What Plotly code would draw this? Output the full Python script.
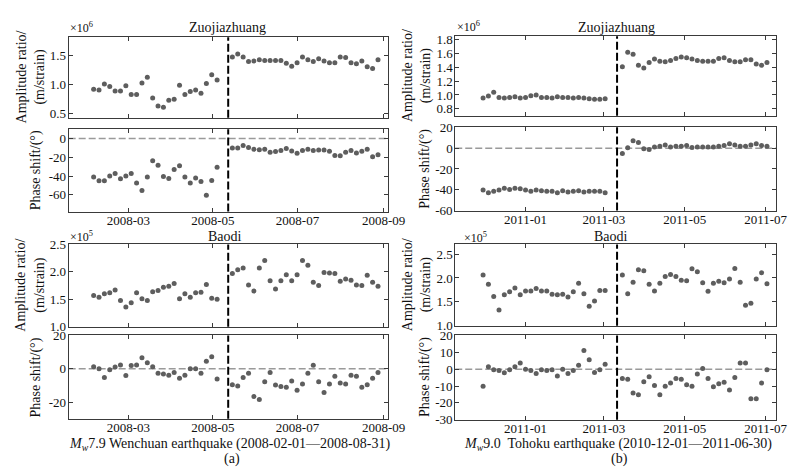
import plotly.graph_objects as go
import pandas as pd

W, H = 796, 472

# ---------------- sampling dates ----------------
wen_pre_dates = pd.date_range("2008-02-05", "2008-05-04", periods=24)
wen_post_dates = pd.date_range("2008-05-15", "2008-08-28", periods=28)
toh_pre_dates = pd.date_range("2010-11-30", "2011-03-02", periods=24)
toh_post_dates = pd.date_range("2011-03-15", "2011-07-02", periods=28)

wen_quake = "2008-05-12"
toh_quake = "2011-03-11"

# ---------------- Wenchuan: Zuojiazhuang ----------------
wen_zuo_amp_pre = [0.92, 0.91, 1.01, 0.97, 0.89, 0.89, 0.98, 0.83, 0.83, 1.03, 1.13, 0.77,
                   0.63, 0.61, 0.73, 0.75, 0.99, 0.83, 0.88, 0.91, 0.85, 1.02, 1.17, 1.08]
wen_zuo_amp_post = [1.48, 1.53, 1.48, 1.40, 1.41, 1.43, 1.42, 1.42, 1.42, 1.42, 1.37, 1.32, 1.38, 1.48,
                    1.43, 1.40, 1.45, 1.41, 1.38, 1.38, 1.48, 1.47, 1.38, 1.36, 1.41, 1.31, 1.28, 1.43]
wen_zuo_ph_pre = [-41, -45, -45, -40, -37.4, -43, -40, -37.4, -47.5, -55.5, -41, -23.6,
                  -28.4, -40.6, -42.6, -33, -29, -41, -47.5, -42, -46, -60.7, -44.7, -30.5]
wen_zuo_ph_post = [-10, -10, -7.3, -9.4, -11.4, -12, -11.4, -14.6, -13.9, -12.8, -10.7, -13.2, -15.6, -12.8,
                   -11.4, -12.8, -12.1, -12.1, -13.5, -18, -18.4, -14.6, -12.8, -15.3, -13.5, -11.4, -19.4, -17.3]

# ---------------- Wenchuan: Baodi ----------------
wen_bao_amp_pre = [1.57, 1.54, 1.60, 1.62, 1.67, 1.48, 1.36, 1.44, 1.62, 1.51, 1.48, 1.64,
                   1.66, 1.72, 1.74, 1.79, 1.51, 1.60, 1.54, 1.62, 1.63, 1.77, 1.52, 1.50]
wen_bao_amp_post = [1.97, 2.04, 2.07, 1.76, 1.65, 2.07, 2.21, 1.84, 1.69, 1.84, 1.95, 1.84, 1.95, 2.21,
                    2.12, 1.81, 1.75, 1.99, 1.98, 1.97, 1.83, 1.87, 1.85, 1.76, 1.75, 1.94, 1.81, 1.74]
wen_bao_ph_pre = [1.2, 0, -5.3, -0.6, 1.0, 2.3, -4.1, 2.0, 2.3, 6.6, 3.7, 1.2,
                  -2.7, -3.1, -3.9, -2.3, -5.7, -3.9, 0, 0, -2.7, 4.5, 7.2, -6.2]
wen_bao_ph_post = [-9.6, -10.3, -5.3, -2.7, -16.6, -18.5, -7.8, -2.3, -9.8, -10.7, -11.1, -7.4, -12.9, -9.2,
                   -2.7, 2.1, -7.8, -14.2, -9.2, -4.5, -8.6, -9.2, -3.9, -4.5, -11.1, -9.6, -5.7, -2.3]

# ---------------- Tohoku: Zuojiazhuang ----------------
toh_zuo_amp_pre = [0.956, 0.984, 1.041, 0.965, 0.956, 0.965, 0.975, 0.956, 0.965, 0.989, 0.998, 0.965,
                   0.965, 0.956, 0.975, 0.965, 0.965, 0.956, 0.965, 0.956, 0.946, 0.937, 0.937, 0.946]
toh_zuo_amp_post = [1.41, 1.62, 1.59, 1.43, 1.39, 1.47, 1.52, 1.49, 1.48, 1.50, 1.53, 1.55, 1.54, 1.52,
                    1.50, 1.49, 1.49, 1.49, 1.53, 1.54, 1.50, 1.48, 1.48, 1.51, 1.51, 1.45, 1.43, 1.47]
toh_zuo_ph_pre = [-40.3, -42.8, -41.5, -40.3, -38.5, -39.7, -38.5, -39.1, -40.3, -41.5, -40.3, -40.9,
                  -41.5, -41.5, -42.8, -40.9, -42.2, -41.5, -40.9, -42.2, -41.5, -41.5, -41.5, -42.8]
toh_zuo_ph_post = [-5.2, 0.3, 7.1, 5.5, -0.6, -1.2, 1.2, 1.8, 3.1, 1.2, 1.8, 1.8, 2.5, 0.6,
                   1.2, 1.2, 1.2, 1.2, 1.8, 2.5, 4.3, 3.1, 1.8, 1.8, 3.1, 4.3, 2.5, 1.8]

# ---------------- Tohoku: Baodi ----------------
toh_bao_amp_pre = [2.06, 1.87, 1.61, 1.33, 1.65, 1.71, 1.79, 1.65, 1.73, 1.73, 1.78, 1.73,
                   1.73, 1.66, 1.65, 1.66, 1.60, 1.71, 1.89, 1.67, 1.41, 1.52, 1.74, 1.74]
toh_bao_amp_post = [2.06, 1.67, 1.91, 2.17, 2.15, 1.87, 1.73, 1.89, 2.03, 2.07, 2.03, 1.95, 1.94, 2.19,
                    2.13, 1.90, 1.72, 1.89, 1.93, 1.90, 1.98, 2.20, 1.91, 1.43, 1.47, 1.98, 2.11, 1.88]
toh_bao_ph_pre = [-10.1, 1.4, -0.4, -0.8, -2.1, -0.4, 1.4, 3.7, 0, -0.8, -2.5, -0.4,
                  -0.8, -0.4, -4.1, 0, -2.5, -0.8, 2.3, 11.1, 5.6, -1.9, -0.4, 2.9]
toh_bao_ph_post = [-5.6, -6.0, -14.2, -15.2, -7.4, -4.5, -9.7, -15.2, -10.1, -8.2, -5.6, -6.0, -9.3, -10.1,
                   -2.9, 0.4, -5.6, -10.5, -8.6, -7.8, -12.3, -4.9, 3.7, 3.7, -17.5, -17.5, -8.2, -0.4]

# ---------------- ticks ----------------
wen_xticks = ["2008-03-01", "2008-05-01", "2008-07-01", "2008-09-01"]
wen_xtext = ["2008-03", "2008-05", "2008-07", "2008-09"]
toh_xticks = ["2011-01-01", "2011-03-01", "2011-05-01", "2011-07-01"]
toh_xtext = ["2011-01", "2011-03", "2011-05", "2011-07"]

wen_zuo_amp_ticks = [0.5, 1.0, 1.5]
wen_zuo_ph_ticks = [-60, -40, -20, 0]
wen_bao_amp_ticks = [1.0, 1.5, 2.0, 2.5]
wen_bao_ph_ticks = [-20, 0, 20]
toh_zuo_amp_ticks = [0.8, 1.0, 1.2, 1.4, 1.6, 1.8]
toh_zuo_ph_ticks = [-60, -40, -20, 0, 20]
toh_bao_amp_ticks = [1.0, 1.5, 2.0, 2.5]
toh_bao_ph_ticks = [-30, -20, -10, 0, 10, 20]

FONT = "Liberation Serif, Times New Roman, serif"
MARK = "#5e5e5e"
AXC = "#3a3a3a"


def fx(p):
    return p / W


def fy(p):
    return 1 - p / H


def fmt(v, dec):
    return f"{v:.{dec}f}"


LEFT = (62, 388)
RIGHT = (457, 785)
WEN_RANGE = ["2008-01-18", "2008-09-04"]
TOH_RANGE = ["2010-11-09", "2011-07-09"]

panels = [
    (LEFT, (23, 106), wen_pre_dates, wen_post_dates, wen_zuo_amp_pre, wen_zuo_amp_post, [0.43, 1.82], wen_zuo_amp_ticks, 1,
     wen_xticks, wen_xtext, WEN_RANGE, wen_quake, False, False),
    (LEFT, (118, 203), wen_pre_dates, wen_post_dates, wen_zuo_ph_pre, wen_zuo_ph_post, [-78, 10], wen_zuo_ph_ticks, 0,
     wen_xticks, wen_xtext, WEN_RANGE, wen_quake, True, True),
    (LEFT, (237, 322), wen_pre_dates, wen_post_dates, wen_bao_amp_pre, wen_bao_amp_post, [1.0, 2.5], wen_bao_amp_ticks, 1,
     wen_xticks, wen_xtext, WEN_RANGE, wen_quake, False, False),
    (LEFT, (331, 417), wen_pre_dates, wen_post_dates, wen_bao_ph_pre, wen_bao_ph_post, [-30, 20], wen_bao_ph_ticks, 0,
     wen_xticks, wen_xtext, WEN_RANGE, wen_quake, True, True),
    (RIGHT, (22, 104), toh_pre_dates, toh_post_dates, toh_zuo_amp_pre, toh_zuo_amp_post, [0.7, 1.85], toh_zuo_amp_ticks, 1,
     toh_xticks, toh_xtext, TOH_RANGE, toh_quake, False, False),
    (RIGHT, (116, 202), toh_pre_dates, toh_post_dates, toh_zuo_ph_pre, toh_zuo_ph_post, [-60, 20], toh_zuo_ph_ticks, 0,
     toh_xticks, toh_xtext, TOH_RANGE, toh_quake, True, True),
    (RIGHT, (237, 321), toh_pre_dates, toh_post_dates, toh_bao_amp_pre, toh_bao_amp_post, [1.0, 2.7], toh_bao_amp_ticks, 1,
     toh_xticks, toh_xtext, TOH_RANGE, toh_quake, False, False),
    (RIGHT, (331, 418), toh_pre_dates, toh_post_dates, toh_bao_ph_pre, toh_bao_ph_post, [-30, 20], toh_bao_ph_ticks, 0,
     toh_xticks, toh_xtext, TOH_RANGE, toh_quake, True, True),
]

fig = go.Figure()
shapes = []
layout_axes = {}

for i, (cols, (top, bot), dpre, dpost, vpre, vpost, yr, yt, dec, xt, xtx, xr, quake, is_ph, showx) in enumerate(panels, start=1):
    sfx = "" if i == 1 else str(i)
    xs = list(dpre) + list(dpost)
    ys = list(vpre) + list(vpost)
    fig.add_trace(go.Scatter(
        x=xs, y=ys, mode="markers",
        marker=dict(color=MARK, size=5),
        xaxis="x" + sfx, yaxis="y" + sfx, showlegend=False, hoverinfo="skip",
    ))
    layout_axes["xaxis" + sfx] = dict(
        domain=[fx(cols[0]), fx(cols[1])], anchor="y" + sfx, type="date", range=xr,
        tickmode="array", tickvals=xt, ticktext=xtx, showticklabels=showx,
        ticks="inside", ticklen=4, tickcolor=AXC, showline=True, linecolor=AXC, linewidth=1,
        mirror="ticks", showgrid=False, zeroline=False, ticklabelstandoff=-3,
        tickfont=dict(family=FONT, size=13, color="#111"),
    )
    layout_axes["yaxis" + sfx] = dict(
        domain=[fy(bot), fy(top)], anchor="x" + sfx, range=yr,
        tickmode="array", tickvals=yt, ticktext=[fmt(v, dec) for v in yt],
        ticks="inside", ticklen=4, tickcolor=AXC, showline=True, linecolor=AXC, linewidth=1,
        mirror="ticks", showgrid=False, zeroline=False, ticklabelstandoff=-1,
        tickfont=dict(family=FONT, size=13, color="#111"),
    )
    xref = "x" + sfx
    yref = "y" + sfx
    if is_ph:
        shapes.append(dict(type="line", xref=xref + " domain", yref=yref, x0=0, x1=1, y0=0, y1=0,
                           line=dict(color="#9a9a9a", width=1.5, dash="7px,3px"), layer="below"))
    shapes.append(dict(type="line", xref=xref, yref=yref + " domain", x0=quake, x1=quake, y0=0, y1=1,
                       line=dict(color="#000", width=2, dash="8px,3px")))

annotations = []


def ann(text, x, y, size=14, angle=0, xanchor="center"):
    annotations.append(dict(text=text, x=fx(x), y=fy(y), xref="paper", yref="paper", showarrow=False,
                            textangle=angle, xanchor=xanchor, yanchor="middle",
                            font=dict(family=FONT, size=size, color="#111")))


# panel titles
ann("Zuojiazhuang", 224, 13)
ann("Zuojiazhuang", 622, 13)
ann("Baodi", 222, 229)
ann("Baodi", 616, 229)
# scale factors
ann("×10<sup>6</sup>", 61, 13, size=12, xanchor="left")
ann("×10<sup>6</sup>", 457, 12, size=12, xanchor="left")
ann("×10<sup>5</sup>", 61, 229, size=12, xanchor="left")
ann("×10<sup>5</sup>", 464, 230, size=12, xanchor="left")
# y titles
amp_title = "Amplitude ratio/<br>(m/strain)"
ph_title = "Phase shift/(°)"
ann(amp_title, 23, 64, angle=-90)
ann(ph_title, 29, 160, angle=-90)
ann(amp_title, 23, 279, angle=-90)
ann(ph_title, 29, 374, angle=-90)
ann(amp_title, 418, 63, angle=-90)
ann(ph_title, 426, 159, angle=-90)
ann(amp_title, 418, 279, angle=-90)
ann(ph_title, 426, 374, angle=-90)
# x titles
ann("<i>M</i><sub><i>w</i></sub>7.9 Wenchuan earthquake (2008-02-01—2008-08-31)", 226, 444)
ann("<i>M</i><sub><i>w</i></sub>9.0  Tohoku earthquake (2010-12-01—2011-06-30)", 623, 444)
ann("(a)", 229, 459)
ann("(b)", 625, 459)

fig.update_layout(
    width=W, height=H, autosize=False,
    margin=dict(l=0, r=0, t=0, b=0),
    paper_bgcolor="white", plot_bgcolor="white",
    font=dict(family=FONT, size=14, color="#111"),
    shapes=shapes, annotations=annotations,
    **layout_axes,
)

fig.write_html("out.html")
